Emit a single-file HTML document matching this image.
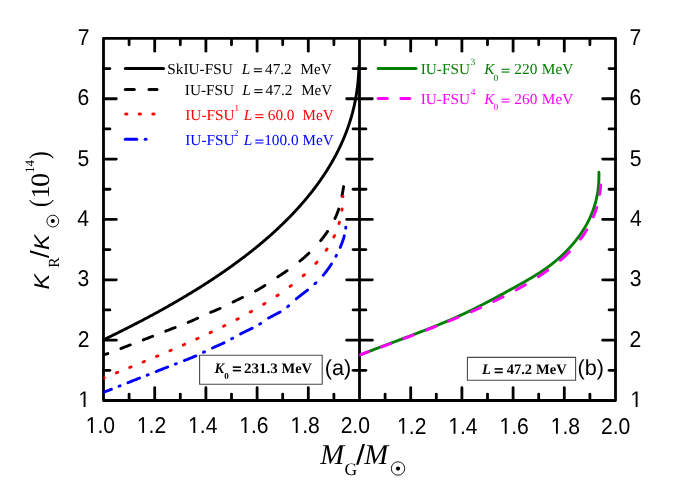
<!DOCTYPE html><html><head><meta charset="utf-8"><title>plot</title>
<style>html,body{margin:0;padding:0;background:#fff}svg{display:block;will-change:transform}text{font-family:"Liberation Sans",sans-serif;text-rendering:geometricPrecision}.s{font-family:"Liberation Serif",serif}.i{font-style:italic}.b{font-weight:bold}</style></head><body>
<svg width="692" height="483" viewBox="0 0 692 483">
<rect width="692" height="483" fill="#fff"/>
<g stroke="#000" stroke-width="2.8" fill="none" stroke-linecap="round" stroke-linejoin="round">
<rect x="103.5" y="38.4" width="512.0" height="362.1"/>
<line x1="359.5" y1="38.4" x2="359.5" y2="400.5"/>
<line x1="129.10" y1="38.4" x2="129.10" y2="44.8"/>
<line x1="129.10" y1="400.5" x2="129.10" y2="394.1"/>
<line x1="154.70" y1="38.4" x2="154.70" y2="51.2"/>
<line x1="154.70" y1="400.5" x2="154.70" y2="387.7"/>
<line x1="180.30" y1="38.4" x2="180.30" y2="44.8"/>
<line x1="180.30" y1="400.5" x2="180.30" y2="394.1"/>
<line x1="205.90" y1="38.4" x2="205.90" y2="51.2"/>
<line x1="205.90" y1="400.5" x2="205.90" y2="387.7"/>
<line x1="231.50" y1="38.4" x2="231.50" y2="44.8"/>
<line x1="231.50" y1="400.5" x2="231.50" y2="394.1"/>
<line x1="257.10" y1="38.4" x2="257.10" y2="51.2"/>
<line x1="257.10" y1="400.5" x2="257.10" y2="387.7"/>
<line x1="282.70" y1="38.4" x2="282.70" y2="44.8"/>
<line x1="282.70" y1="400.5" x2="282.70" y2="394.1"/>
<line x1="308.30" y1="38.4" x2="308.30" y2="51.2"/>
<line x1="308.30" y1="400.5" x2="308.30" y2="387.7"/>
<line x1="333.90" y1="38.4" x2="333.90" y2="44.8"/>
<line x1="333.90" y1="400.5" x2="333.90" y2="394.1"/>
<line x1="385.10" y1="38.4" x2="385.10" y2="44.8"/>
<line x1="385.10" y1="400.5" x2="385.10" y2="394.1"/>
<line x1="410.70" y1="38.4" x2="410.70" y2="51.2"/>
<line x1="410.70" y1="400.5" x2="410.70" y2="387.7"/>
<line x1="436.30" y1="38.4" x2="436.30" y2="44.8"/>
<line x1="436.30" y1="400.5" x2="436.30" y2="394.1"/>
<line x1="461.90" y1="38.4" x2="461.90" y2="51.2"/>
<line x1="461.90" y1="400.5" x2="461.90" y2="387.7"/>
<line x1="487.50" y1="38.4" x2="487.50" y2="44.8"/>
<line x1="487.50" y1="400.5" x2="487.50" y2="394.1"/>
<line x1="513.10" y1="38.4" x2="513.10" y2="51.2"/>
<line x1="513.10" y1="400.5" x2="513.10" y2="387.7"/>
<line x1="538.70" y1="38.4" x2="538.70" y2="44.8"/>
<line x1="538.70" y1="400.5" x2="538.70" y2="394.1"/>
<line x1="564.30" y1="38.4" x2="564.30" y2="51.2"/>
<line x1="564.30" y1="400.5" x2="564.30" y2="387.7"/>
<line x1="589.90" y1="38.4" x2="589.90" y2="44.8"/>
<line x1="589.90" y1="400.5" x2="589.90" y2="394.1"/>
<line x1="103.5" y1="370.32" x2="109.9" y2="370.32"/>
<line x1="353.1" y1="370.32" x2="365.9" y2="370.32"/>
<line x1="615.5" y1="370.32" x2="609.1" y2="370.32"/>
<line x1="103.5" y1="340.15" x2="116.3" y2="340.15"/>
<line x1="346.7" y1="340.15" x2="372.3" y2="340.15"/>
<line x1="615.5" y1="340.15" x2="602.7" y2="340.15"/>
<line x1="103.5" y1="309.97" x2="109.9" y2="309.97"/>
<line x1="353.1" y1="309.97" x2="365.9" y2="309.97"/>
<line x1="615.5" y1="309.97" x2="609.1" y2="309.97"/>
<line x1="103.5" y1="279.80" x2="116.3" y2="279.80"/>
<line x1="346.7" y1="279.80" x2="372.3" y2="279.80"/>
<line x1="615.5" y1="279.80" x2="602.7" y2="279.80"/>
<line x1="103.5" y1="249.62" x2="109.9" y2="249.62"/>
<line x1="353.1" y1="249.62" x2="365.9" y2="249.62"/>
<line x1="615.5" y1="249.62" x2="609.1" y2="249.62"/>
<line x1="103.5" y1="219.45" x2="116.3" y2="219.45"/>
<line x1="346.7" y1="219.45" x2="372.3" y2="219.45"/>
<line x1="615.5" y1="219.45" x2="602.7" y2="219.45"/>
<line x1="103.5" y1="189.27" x2="109.9" y2="189.27"/>
<line x1="353.1" y1="189.27" x2="365.9" y2="189.27"/>
<line x1="615.5" y1="189.27" x2="609.1" y2="189.27"/>
<line x1="103.5" y1="159.10" x2="116.3" y2="159.10"/>
<line x1="346.7" y1="159.10" x2="372.3" y2="159.10"/>
<line x1="615.5" y1="159.10" x2="602.7" y2="159.10"/>
<line x1="103.5" y1="128.93" x2="109.9" y2="128.93"/>
<line x1="353.1" y1="128.93" x2="365.9" y2="128.93"/>
<line x1="615.5" y1="128.93" x2="609.1" y2="128.93"/>
<line x1="103.5" y1="98.75" x2="116.3" y2="98.75"/>
<line x1="346.7" y1="98.75" x2="372.3" y2="98.75"/>
<line x1="615.5" y1="98.75" x2="602.7" y2="98.75"/>
<line x1="103.5" y1="68.57" x2="109.9" y2="68.57"/>
<line x1="353.1" y1="68.57" x2="365.9" y2="68.57"/>
<line x1="615.5" y1="68.57" x2="609.1" y2="68.57"/>
</g>
<clipPath id="cl"><rect x="103.5" y="38.4" width="256.0" height="362.1"/></clipPath>
<clipPath id="cr"><rect x="359.5" y="38.4" width="256.0" height="362.1"/></clipPath>
<g fill="none" stroke-width="2.9" stroke-linecap="round" stroke-linejoin="round" clip-path="url(#cl)">
<path d="M103.33,339.90 L105.23,338.98 L107.13,338.07 L109.02,337.15 L110.90,336.24 L112.78,335.32 L114.65,334.40 L116.50,333.49 L118.35,332.57 L120.20,331.66 L122.03,330.74 L123.86,329.82 L125.68,328.91 L127.49,327.99 L129.29,327.08 L131.09,326.16 L132.88,325.24 L134.66,324.33 L136.43,323.41 L138.19,322.49 L139.95,321.58 L141.70,320.66 L143.44,319.75 L145.17,318.83 L146.89,317.91 L148.61,317.00 L150.32,316.08 L152.02,315.17 L153.71,314.25 L155.40,313.33 L157.08,312.42 L158.75,311.50 L160.41,310.59 L162.06,309.67 L163.71,308.75 L165.35,307.84 L166.98,306.92 L168.60,306.01 L170.21,305.09 L171.82,304.17 L173.42,303.26 L175.01,302.34 L176.59,301.43 L178.17,300.51 L179.74,299.59 L181.29,298.68 L182.85,297.76 L184.39,296.85 L185.93,295.93 L187.45,295.01 L188.97,294.10 L190.49,293.18 L191.99,292.27 L193.49,291.35 L194.98,290.43 L196.46,289.52 L197.93,288.60 L199.40,287.68 L200.85,286.77 L202.30,285.85 L203.75,284.94 L205.18,284.02 L206.61,283.10 L208.02,282.19 L209.43,281.27 L210.84,280.36 L212.23,279.44 L213.62,278.52 L215.00,277.61 L216.37,276.69 L217.73,275.78 L219.09,274.86 L220.44,273.94 L221.78,273.03 L223.11,272.11 L224.43,271.20 L225.75,270.28 L227.06,269.36 L228.36,268.45 L229.66,267.53 L230.94,266.62 L232.22,265.70 L233.49,264.78 L234.76,263.87 L236.01,262.95 L237.26,262.04 L238.50,261.12 L239.73,260.20 L240.96,259.29 L242.18,258.37 L243.39,257.46 L244.59,256.54 L245.79,255.62 L246.97,254.71 L248.16,253.79 L249.33,252.87 L250.50,251.96 L251.65,251.04 L252.81,250.13 L253.95,249.21 L255.09,248.29 L256.22,247.38 L257.34,246.46 L258.45,245.55 L259.56,244.63 L260.66,243.71 L261.75,242.80 L262.84,241.88 L263.92,240.97 L264.99,240.05 L266.06,239.13 L267.11,238.22 L268.16,237.30 L269.21,236.39 L270.24,235.47 L271.27,234.55 L272.30,233.64 L273.31,232.72 L274.32,231.81 L275.32,230.89 L276.31,229.97 L277.30,229.06 L278.28,228.14 L279.26,227.23 L280.22,226.31 L281.18,225.39 L282.13,224.48 L283.08,223.56 L284.02,222.65 L284.95,221.73 L285.88,220.81 L286.80,219.90 L287.71,218.98 L288.61,218.06 L289.51,217.15 L290.41,216.23 L291.29,215.32 L292.17,214.40 L293.04,213.48 L293.91,212.57 L294.77,211.65 L295.62,210.74 L296.46,209.82 L297.30,208.90 L298.14,207.99 L298.96,207.07 L299.78,206.16 L300.60,205.24 L301.40,204.32 L302.20,203.41 L303.00,202.49 L303.78,201.58 L304.57,200.66 L305.34,199.74 L306.11,198.83 L306.87,197.91 L307.63,197.00 L308.38,196.08 L309.12,195.16 L309.86,194.25 L310.59,193.33 L311.31,192.42 L312.03,191.50 L312.75,190.58 L313.45,189.67 L314.15,188.75 L314.85,187.84 L315.54,186.92 L316.22,186.00 L316.89,185.09 L317.56,184.17 L318.23,183.25 L318.89,182.34 L319.54,181.42 L320.18,180.51 L320.82,179.59 L321.46,178.67 L322.09,177.76 L322.71,176.84 L323.32,175.93 L323.94,175.01 L324.54,174.09 L325.14,173.18 L325.73,172.26 L326.32,171.35 L326.90,170.43 L327.48,169.51 L328.05,168.60 L328.61,167.68 L329.17,166.77 L329.73,165.85 L330.27,164.93 L330.82,164.02 L331.35,163.10 L331.88,162.19 L332.41,161.27 L332.93,160.35 L333.44,159.44 L333.95,158.52 L334.45,157.61 L334.95,156.69 L335.44,155.77 L335.93,154.86 L336.41,153.94 L336.88,153.03 L337.35,152.11 L337.82,151.19 L338.27,150.28 L338.73,149.36 L339.17,148.44 L339.62,147.53 L340.05,146.61 L340.49,145.70 L340.91,144.78 L341.33,143.86 L341.75,142.95 L342.16,142.03 L342.56,141.12 L342.96,140.20 L343.35,139.28 L343.74,138.37 L344.12,137.45 L344.50,136.54 L344.87,135.62 L345.24,134.70 L345.60,133.79 L345.96,132.87 L346.31,131.96 L346.66,131.04 L347.00,130.12 L347.33,129.21 L347.66,128.29 L347.99,127.38 L348.31,126.46 L348.62,125.54 L348.93,124.63 L349.24,123.71 L349.54,122.80 L349.83,121.88 L350.12,120.96 L350.41,120.05 L350.68,119.13 L350.96,118.22 L351.23,117.30 L351.49,116.38 L351.75,115.47 L352.00,114.55 L352.25,113.63 L352.50,112.72 L352.73,111.80 L352.97,110.89 L353.20,109.97 L353.42,109.05 L353.64,108.14 L353.86,107.22 L354.07,106.31 L354.27,105.39 L354.47,104.47 L354.67,103.56 L354.86,102.64 L355.04,101.73 L355.23,100.81 L355.40,99.89 L355.58,98.98 L355.74,98.06 L355.91,97.15 L356.07,96.23 L356.22,95.31 L356.37,94.40 L356.52,93.48 L356.66,92.57 L356.80,91.65 L356.93,90.73 L357.06,89.82 L357.18,88.90 L357.30,87.99 L357.42,87.07 L357.53,86.15 L357.64,85.24 L357.74,84.32 L357.84,83.41 L357.94,82.49 L358.03,81.57 L358.11,80.66 L358.20,79.74 L358.28,78.82 L358.35,77.91 L358.42,76.99 L358.49,76.08 L358.55,75.16 L358.61,74.24 L358.67,73.33 L358.72,72.41 L358.77,71.50 L358.82,70.58 L358.86,69.66 L358.90,68.75 L358.93,67.83 L358.96,66.92 L358.99,66.00" stroke="#000"/>
<path d="M103.72,354.80 L105.28,354.35 L106.76,353.90 L107.82,353.56 M120.86,348.55 L121.98,348.11 L123.12,347.66 L124.27,347.21 L125.44,346.76 L126.61,346.31 L127.78,345.86 L128.96,345.41 L130.15,344.96 L130.26,344.91 M143.31,339.88 L144.45,339.44 L145.60,338.99 L146.76,338.54 L147.91,338.09 L149.06,337.64 L150.22,337.19 L151.37,336.74 L152.52,336.29 L152.71,336.22 M165.76,331.13 L166.81,330.72 L167.97,330.27 L169.13,329.82 L170.30,329.37 L171.47,328.92 L172.64,328.47 L173.81,328.02 L174.98,327.57 L175.16,327.51 M188.21,322.35 L189.16,321.95 L190.22,321.50 L191.26,321.05 L192.29,320.60 L193.30,320.15 L194.31,319.70 L195.30,319.25 L196.29,318.80 L197.27,318.35 L197.61,318.19 M210.66,312.34 L211.64,311.94 L212.73,311.49 L213.84,311.04 L214.94,310.59 L216.04,310.14 L217.14,309.69 L218.22,309.24 L219.28,308.79 L220.06,308.45 M233.10,302.01 L233.93,301.59 L234.83,301.14 L235.75,300.69 L236.66,300.24 L237.59,299.79 L238.52,299.34 L239.46,298.89 L240.39,298.44 L241.34,297.99 L242.28,297.54 L242.49,297.44 M255.53,290.99 L256.33,290.56 L257.15,290.11 L257.96,289.66 L258.75,289.21 L259.53,288.76 L260.30,288.31 L261.06,287.86 L261.81,287.41 L262.55,286.96 L263.28,286.51 L264.00,286.06 L264.72,285.61 L264.89,285.50 M277.80,276.89 L278.39,276.50 L279.07,276.05 L279.75,275.60 L280.43,275.15 L281.11,274.70 L281.79,274.25 L282.47,273.80 L283.14,273.35 L283.82,272.90 L284.49,272.45 L285.16,272.00 L285.83,271.55 L286.49,271.10 L287.10,270.68 M299.89,261.13 L300.43,260.69 L300.97,260.24 L301.51,259.79 L302.05,259.34 L302.58,258.89 L303.11,258.44 L303.63,257.99 L304.15,257.54 L304.66,257.09 L305.17,256.64 L305.67,256.19 L306.17,255.74 L306.67,255.29 L307.16,254.84 L307.65,254.39 L308.13,253.94 L308.61,253.49 L308.97,253.14 M320.65,240.62 L320.99,240.21 L321.36,239.76 L321.72,239.31 L322.08,238.86 L322.43,238.41 L322.79,237.96 L323.14,237.51 L323.48,237.06 L323.82,236.61 L324.16,236.16 L324.50,235.71 L324.83,235.26 L325.16,234.81 L325.49,234.36 L325.81,233.91 L326.13,233.46 L326.45,233.01 L326.76,232.56 L327.07,232.11 L327.38,231.66 L327.55,231.41 M334.99,218.42 L335.18,217.99 L335.39,217.54 L335.60,217.09 L335.80,216.64 L335.99,216.19 L336.19,215.74 L336.38,215.29 L336.57,214.84 L336.76,214.39 L336.94,213.94 L337.12,213.49 L337.30,213.04 L337.47,212.59 L337.64,212.14 L337.81,211.69 L337.97,211.24 L338.13,210.79 L338.29,210.34 L338.44,209.89 L338.60,209.44 L338.74,209.02 M341.97,195.97 L342.05,195.55 L342.13,195.10 L342.21,194.65 L342.30,194.20 L342.38,193.75 L342.46,193.30 L342.54,192.85 L342.61,192.40 L342.69,191.95 L342.77,191.50 L342.85,191.05 L342.92,190.60 L343.00,190.15 L343.08,189.70 L343.15,189.25 L343.23,188.80 L343.30,188.35 L343.38,187.90 L343.45,187.45 L343.53,187.00 L343.60,186.57" stroke="#000"/>
<path d="M103.95,377.80 L104.25,377.68 M116.35,372.86 L117.47,372.41 L117.65,372.34 M129.74,367.47 L130.86,367.02 L131.04,366.94 M143.14,362.00 L144.20,361.56 L144.44,361.46 M156.54,356.43 L157.60,355.99 L157.84,355.89 M169.94,350.75 L171.00,350.29 L171.24,350.19 M183.34,344.92 L184.34,344.48 L184.64,344.34 M196.74,338.91 L197.68,338.48 L198.04,338.31 M210.13,332.68 L211.06,332.24 L211.43,332.06 M223.52,326.18 L224.38,325.76 L224.82,325.54 M236.91,319.35 L237.75,318.91 L238.21,318.67 M250.28,312.10 L251.10,311.64 L251.58,311.37 M263.63,304.30 L264.41,303.82 L264.92,303.51 M276.92,295.81 L277.62,295.34 L278.20,294.95 M290.11,286.43 L290.74,285.95 L291.37,285.47 L291.38,285.46 M303.14,275.80 L303.65,275.35 L304.19,274.86 L304.39,274.68 M315.80,263.37 L316.20,262.93 L316.64,262.44 L316.92,262.12 M326.16,250.31 L326.48,249.84 L326.80,249.36 L327.02,249.02 M333.87,236.97 L334.08,236.51 L334.31,236.03 L334.48,235.67 M339.03,223.57 L339.16,223.12 L339.30,222.64 L339.40,222.27 M341.93,210.17 L341.99,209.73 L342.05,209.25 L342.10,208.87 M342.90,196.77 L342.90,196.34 L342.90,196.10" stroke="#f00"/>
<path d="M103.50,392.30 L104.67,391.86 L105.83,391.42 L106.99,390.98 L108.14,390.54 L109.28,390.10 L110.42,389.66 L111.40,389.28 M119.05,386.26 L120.05,385.86 M128.04,382.66 L129.13,382.23 L130.23,381.79 L131.33,381.34 L132.44,380.90 L133.55,380.46 L134.66,380.02 L135.77,379.58 L136.89,379.14 L138.01,378.70 L139.14,378.26 L139.54,378.10 M147.19,375.14 L148.19,374.75 M156.19,371.54 L157.29,371.11 L158.39,370.66 L159.50,370.22 L160.61,369.78 L161.72,369.34 L162.84,368.90 L163.96,368.46 L165.08,368.02 L166.21,367.58 L167.34,367.14 L167.69,367.00 M175.34,364.05 L176.34,363.67 M184.34,360.59 L185.33,360.20 L186.46,359.76 L187.57,359.32 L188.68,358.88 L189.78,358.44 L190.86,358.00 L191.93,357.56 L192.99,357.12 L194.03,356.68 L195.05,356.24 L195.84,355.90 M203.49,352.31 L204.34,351.89 L204.49,351.82 M212.48,347.98 L213.45,347.54 L214.44,347.10 L215.43,346.66 L216.43,346.22 L217.44,345.78 L218.44,345.34 L219.44,344.90 L220.43,344.46 L221.40,344.02 L222.37,343.58 L223.31,343.14 L223.98,342.82 M231.62,338.80 L232.31,338.40 L232.62,338.24 M240.60,333.89 L241.37,333.50 L242.24,333.06 L243.13,332.62 L244.02,332.18 L244.93,331.74 L245.83,331.30 L246.74,330.86 L247.65,330.42 L248.56,329.98 L249.46,329.54 L250.37,329.10 L251.26,328.66 L252.09,328.25 M259.72,324.10 L260.34,323.71 L260.71,323.46 M268.62,318.11 L269.31,317.70 L270.10,317.26 L270.90,316.82 L271.72,316.38 L272.55,315.94 L273.39,315.50 L274.23,315.06 L275.08,314.62 L275.93,314.18 L276.77,313.74 L277.60,313.30 L278.42,312.86 L279.22,312.42 L280.01,311.98 L280.10,311.93 M287.63,306.70 L288.09,306.31 L288.60,305.87 L288.60,305.87 M296.32,298.87 L296.83,298.44 L297.37,298.00 L297.91,297.56 L298.45,297.12 L299.01,296.68 L299.57,296.23 L300.13,295.79 L300.70,295.35 L301.27,294.91 L301.84,294.47 L302.42,294.03 L303.00,293.59 L303.58,293.15 L304.15,292.71 L304.73,292.27 L305.31,291.83 L305.88,291.39 L306.45,290.95 L307.02,290.51 L307.54,290.10 M314.96,283.79 L315.43,283.35 L315.89,282.91 L315.92,282.89 M323.19,275.23 L323.54,274.82 L323.91,274.38 L324.27,273.94 L324.63,273.50 L324.99,273.06 L325.34,272.62 L325.69,272.18 L326.03,271.74 L326.37,271.30 L326.71,270.86 L327.04,270.42 L327.37,269.98 L327.69,269.53 L328.01,269.09 L328.33,268.65 L328.64,268.21 L328.95,267.77 L329.25,267.33 L329.55,266.89 L329.85,266.45 L330.15,266.01 L330.44,265.57 L330.73,265.13 L331.01,264.69 L331.29,264.25 L331.49,263.95 M335.90,256.33 L336.10,255.94 L336.34,255.50 L336.42,255.33 M340.25,247.33 L340.43,246.91 L340.62,246.47 L340.80,246.03 L340.98,245.59 L341.16,245.15 L341.34,244.71 L341.51,244.27 L341.68,243.83 L341.85,243.39 L342.01,242.94 L342.18,242.50 L342.34,242.06 L342.49,241.62 L342.65,241.18 L342.80,240.74 L342.94,240.30 L343.09,239.86 L343.23,239.42 L343.37,238.98 L343.50,238.54 L343.64,238.10 L343.76,237.66 L343.89,237.22 L344.01,236.78 L344.13,236.34 L344.25,235.90 L344.27,235.83 M345.72,228.18 L345.77,227.75 L345.82,227.31 L345.83,227.20" stroke="#00f"/>
</g>
<g fill="none" stroke-width="2.9" stroke-linecap="round" stroke-linejoin="round" clip-path="url(#cr)">
<path d="M359.41,355.20 L360.96,354.59 L362.52,353.98 L364.08,353.36 L365.65,352.75 L367.23,352.14 L368.81,351.53 L370.40,350.92 L371.99,350.31 L373.59,349.69 L375.19,349.08 L376.79,348.47 L378.40,347.86 L380.01,347.25 L381.63,346.64 L383.25,346.02 L384.87,345.41 L386.49,344.80 L388.11,344.19 L389.74,343.58 L391.36,342.97 L392.99,342.35 L394.62,341.74 L396.24,341.13 L397.87,340.52 L399.50,339.91 L401.12,339.30 L402.75,338.68 L404.37,338.07 L405.99,337.46 L407.61,336.85 L409.22,336.24 L410.83,335.63 L412.44,335.01 L414.05,334.40 L415.65,333.79 L417.25,333.18 L418.84,332.57 L420.43,331.96 L422.01,331.34 L423.58,330.73 L425.16,330.12 L426.72,329.51 L428.28,328.90 L429.83,328.28 L431.37,327.67 L432.91,327.06 L434.44,326.45 L435.96,325.84 L437.47,325.23 L438.97,324.61 L440.47,324.00 L441.95,323.39 L443.43,322.78 L444.89,322.17 L446.34,321.56 L447.79,320.94 L449.22,320.33 L450.64,319.72 L452.05,319.11 L453.44,318.50 L454.83,317.89 L456.20,317.27 L457.57,316.66 L458.92,316.05 L460.26,315.44 L461.59,314.83 L462.91,314.22 L464.22,313.60 L465.52,312.99 L466.82,312.38 L468.10,311.77 L469.37,311.16 L470.64,310.55 L471.90,309.93 L473.15,309.32 L474.39,308.71 L475.62,308.10 L476.85,307.49 L478.06,306.88 L479.28,306.26 L480.48,305.65 L481.68,305.04 L482.87,304.43 L484.06,303.82 L485.24,303.21 L486.42,302.59 L487.59,301.98 L488.75,301.37 L489.91,300.76 L491.07,300.15 L492.22,299.53 L493.37,298.92 L494.51,298.31 L495.65,297.70 L496.79,297.09 L497.92,296.48 L499.05,295.86 L500.18,295.25 L501.31,294.64 L502.43,294.03 L503.55,293.42 L504.67,292.81 L505.79,292.19 L506.91,291.58 L508.03,290.97 L509.14,290.36 L510.26,289.75 L511.37,289.14 L512.49,288.52 L513.60,287.91 L514.71,287.30 L515.82,286.69 L516.92,286.08 L518.03,285.47 L519.13,284.85 L520.22,284.24 L521.31,283.63 L522.40,283.02 L523.48,282.41 L524.55,281.80 L525.62,281.18 L526.69,280.57 L527.75,279.96 L528.80,279.35 L529.84,278.74 L530.87,278.13 L531.90,277.51 L532.92,276.90 L533.93,276.29 L534.93,275.68 L535.93,275.07 L536.91,274.45 L537.88,273.84 L538.84,273.23 L539.79,272.62 L540.73,272.01 L541.65,271.40 L542.57,270.78 L543.47,270.17 L544.36,269.56 L545.24,268.95 L546.11,268.34 L546.97,267.73 L547.81,267.11 L548.65,266.50 L549.47,265.89 L550.28,265.28 L551.09,264.67 L551.88,264.06 L552.66,263.44 L553.43,262.83 L554.19,262.22 L554.94,261.61 L555.68,261.00 L556.42,260.39 L557.14,259.77 L557.85,259.16 L558.56,258.55 L559.25,257.94 L559.94,257.33 L560.61,256.72 L561.28,256.10 L561.94,255.49 L562.59,254.88 L563.24,254.27 L563.87,253.66 L564.50,253.05 L565.12,252.43 L565.73,251.82 L566.33,251.21 L566.93,250.60 L567.52,249.99 L568.10,249.37 L568.67,248.76 L569.24,248.15 L569.80,247.54 L570.36,246.93 L570.91,246.32 L571.45,245.70 L571.98,245.09 L572.51,244.48 L573.04,243.87 L573.55,243.26 L574.07,242.65 L574.57,242.03 L575.07,241.42 L575.56,240.81 L576.05,240.20 L576.53,239.59 L577.00,238.98 L577.47,238.36 L577.94,237.75 L578.39,237.14 L578.84,236.53 L579.29,235.92 L579.73,235.31 L580.16,234.69 L580.59,234.08 L581.01,233.47 L581.43,232.86 L581.84,232.25 L582.24,231.64 L582.64,231.02 L583.04,230.41 L583.43,229.80 L583.81,229.19 L584.18,228.58 L584.56,227.97 L584.92,227.35 L585.28,226.74 L585.64,226.13 L585.99,225.52 L586.33,224.91 L586.67,224.29 L587.01,223.68 L587.33,223.07 L587.66,222.46 L587.98,221.85 L588.29,221.24 L588.60,220.62 L588.90,220.01 L589.20,219.40 L589.49,218.79 L589.78,218.18 L590.06,217.57 L590.34,216.95 L590.61,216.34 L590.88,215.73 L591.14,215.12 L591.40,214.51 L591.65,213.90 L591.90,213.28 L592.14,212.67 L592.38,212.06 L592.61,211.45 L592.84,210.84 L593.06,210.23 L593.28,209.61 L593.50,209.00 L593.71,208.39 L593.91,207.78 L594.11,207.17 L594.31,206.56 L594.50,205.94 L594.69,205.33 L594.87,204.72 L595.05,204.11 L595.22,203.50 L595.39,202.89 L595.56,202.27 L595.72,201.66 L595.88,201.05 L596.03,200.44 L596.18,199.83 L596.32,199.22 L596.46,198.60 L596.60,197.99 L596.73,197.38 L596.85,196.77 L596.98,196.16 L597.10,195.54 L597.21,194.93 L597.32,194.32 L597.43,193.71 L597.53,193.10 L597.63,192.49 L597.73,191.87 L597.82,191.26 L597.91,190.65 L597.99,190.04 L598.07,189.43 L598.15,188.82 L598.22,188.20 L598.29,187.59 L598.36,186.98 L598.42,186.37 L598.47,185.76 L598.53,185.15 L598.58,184.53 L598.63,183.92 L598.67,183.31 L598.71,182.70 L598.75,182.09 L598.78,181.48 L598.81,180.86 L598.84,180.25 L598.86,179.64 L598.88,179.03 L598.90,178.42 L598.91,177.81 L598.92,177.19 L598.93,176.58 L598.93,175.97 L598.93,175.36 L598.93,174.75 L598.93,174.14 L598.92,173.52 L598.91,172.91 L598.89,172.30" stroke="#008000"/>
<path d="M359.00,355.20 L360.25,354.74 L361.50,354.29 L362.75,353.83 L364.00,353.37 L365.25,352.92 L366.50,352.46 L367.74,352.00 L368.40,351.76 M381.45,346.97 L382.67,346.52 L383.91,346.07 L385.15,345.61 L386.38,345.15 L387.62,344.70 L388.85,344.24 L390.09,343.78 L390.85,343.50 M403.90,338.63 L405.08,338.19 L406.30,337.73 L407.51,337.28 L408.72,336.82 L409.93,336.36 L411.13,335.91 L412.34,335.45 L413.30,335.08 M426.35,330.08 L427.51,329.63 L428.68,329.17 L429.85,328.71 L431.02,328.26 L432.19,327.80 L433.35,327.34 L434.51,326.89 L435.67,326.43 L435.75,326.40 M448.80,321.17 L449.90,320.72 L451.01,320.26 L452.13,319.81 L453.24,319.35 L454.34,318.89 L455.45,318.44 L456.55,317.98 L457.64,317.52 L458.20,317.29 M471.25,311.72 L472.21,311.30 L473.25,310.84 L474.28,310.39 L475.31,309.93 L476.34,309.47 L477.36,309.02 L478.38,308.56 L479.40,308.10 L480.41,307.65 L480.64,307.54 M493.69,301.45 L494.57,301.03 L495.51,300.57 L496.45,300.11 L497.38,299.66 L498.31,299.20 L499.24,298.74 L500.16,298.29 L501.07,297.83 L501.98,297.37 L502.89,296.92 L503.08,296.82 M516.11,289.98 L516.89,289.55 L517.72,289.09 L518.54,288.64 L519.36,288.18 L520.18,287.72 L520.99,287.27 L521.80,286.81 L522.60,286.35 L523.39,285.90 L524.19,285.44 L524.97,284.98 L525.48,284.69 M538.45,276.68 L539.11,276.25 L539.80,275.79 L540.49,275.34 L541.17,274.88 L541.85,274.42 L542.52,273.97 L543.19,273.51 L543.85,273.05 L544.50,272.60 L545.16,272.14 L545.80,271.68 L546.44,271.23 L547.08,270.77 L547.71,270.31 L547.73,270.30 M560.46,260.26 L560.98,259.81 L561.51,259.35 L562.02,258.90 L562.54,258.44 L563.05,257.98 L563.55,257.53 L564.05,257.07 L564.55,256.61 L565.04,256.16 L565.53,255.70 L566.02,255.24 L566.50,254.79 L566.97,254.33 L567.44,253.87 L567.91,253.42 L568.37,252.96 L568.83,252.50 L569.29,252.05 L569.51,251.82 M580.49,239.19 L580.82,238.75 L581.16,238.29 L581.49,237.83 L581.83,237.38 L582.16,236.92 L582.48,236.46 L582.80,236.01 L583.12,235.55 L583.44,235.09 L583.75,234.64 L584.05,234.18 L584.36,233.72 L584.66,233.26 L584.96,232.81 L585.25,232.35 L585.54,231.89 L585.83,231.44 L586.11,230.98 L586.40,230.52 L586.67,230.07 L586.78,229.90 M593.36,216.87 L593.54,216.42 L593.72,215.97 L593.91,215.51 L594.08,215.05 L594.26,214.60 L594.43,214.14 L594.61,213.68 L594.77,213.23 L594.94,212.77 L595.10,212.31 L595.26,211.86 L595.42,211.40 L595.58,210.94 L595.73,210.49 L595.88,210.03 L596.03,209.57 L596.18,209.12 L596.32,208.66 L596.46,208.20 L596.60,207.75 L596.68,207.47 M599.63,194.42 L599.69,193.99 L599.77,193.53 L599.83,193.08 L599.90,192.62 L599.97,192.16 L600.03,191.71 L600.09,191.25 L600.15,190.79 L600.21,190.34 L600.26,189.88 L600.32,189.42 L600.37,188.97 L600.42,188.51 L600.47,188.05 L600.51,187.60 L600.56,187.14 L600.60,186.68 L600.65,186.23 L600.69,185.77 L600.73,185.31 L600.75,185.02" stroke="#f0f"/>
</g>
<path transform="translate(85.67,432.90) scale(0.010303,-0.011127)" d="M515 0V1237L197 1010V1180L530 1409H696V0Z" fill="#000"/>
<text transform="translate(97.41,432.90) scale(1,1.08)" font-size="21.1" fill="#000">.0</text>
<path transform="translate(136.87,432.90) scale(0.010303,-0.011127)" d="M515 0V1237L197 1010V1180L530 1409H696V0Z" fill="#000"/>
<text transform="translate(148.61,432.90) scale(1,1.08)" font-size="21.1" fill="#000">.2</text>
<path transform="translate(188.07,432.90) scale(0.010303,-0.011127)" d="M515 0V1237L197 1010V1180L530 1409H696V0Z" fill="#000"/>
<text transform="translate(199.81,432.90) scale(1,1.08)" font-size="21.1" fill="#000">.4</text>
<path transform="translate(239.27,432.90) scale(0.010303,-0.011127)" d="M515 0V1237L197 1010V1180L530 1409H696V0Z" fill="#000"/>
<text transform="translate(251.01,432.90) scale(1,1.08)" font-size="21.1" fill="#000">.6</text>
<path transform="translate(290.47,432.90) scale(0.010303,-0.011127)" d="M515 0V1237L197 1010V1180L530 1409H696V0Z" fill="#000"/>
<text transform="translate(302.21,432.90) scale(1,1.08)" font-size="21.1" fill="#000">.8</text>
<text transform="translate(340.64,432.90) scale(1,1.08)" font-size="21.1" fill="#000">2.0</text>
<path transform="translate(397.07,433.70) scale(0.010303,-0.011127)" d="M515 0V1237L197 1010V1180L530 1409H696V0Z" fill="#000"/>
<text transform="translate(408.81,433.70) scale(1,1.08)" font-size="21.1" fill="#000">.2</text>
<path transform="translate(448.27,433.70) scale(0.010303,-0.011127)" d="M515 0V1237L197 1010V1180L530 1409H696V0Z" fill="#000"/>
<text transform="translate(460.01,433.70) scale(1,1.08)" font-size="21.1" fill="#000">.4</text>
<path transform="translate(499.47,433.70) scale(0.010303,-0.011127)" d="M515 0V1237L197 1010V1180L530 1409H696V0Z" fill="#000"/>
<text transform="translate(511.21,433.70) scale(1,1.08)" font-size="21.1" fill="#000">.6</text>
<path transform="translate(550.67,433.70) scale(0.010303,-0.011127)" d="M515 0V1237L197 1010V1180L530 1409H696V0Z" fill="#000"/>
<text transform="translate(562.41,433.70) scale(1,1.08)" font-size="21.1" fill="#000">.8</text>
<text transform="translate(600.94,433.70) scale(1,1.08)" font-size="21.1" fill="#000">2.0</text>
<path transform="translate(78.33,407.10) scale(0.010303,-0.011127)" d="M515 0V1237L197 1010V1180L530 1409H696V0Z" fill="#000"/>
<path transform="translate(630.37,407.10) scale(0.010303,-0.011127)" d="M515 0V1237L197 1010V1180L530 1409H696V0Z" fill="#000"/>
<text transform="translate(77.63,346.75) scale(1,1.08)" font-size="21.1" fill="#000">2</text>
<text transform="translate(629.44,346.75) scale(1,1.08)" font-size="21.1" fill="#000">2</text>
<text transform="translate(77.49,286.40) scale(1,1.08)" font-size="21.1" fill="#000">3</text>
<text transform="translate(629.70,286.40) scale(1,1.08)" font-size="21.1" fill="#000">3</text>
<text transform="translate(77.18,226.05) scale(1,1.08)" font-size="21.1" fill="#000">4</text>
<text transform="translate(630.02,226.05) scale(1,1.08)" font-size="21.1" fill="#000">4</text>
<text transform="translate(77.45,165.70) scale(1,1.08)" font-size="21.1" fill="#000">5</text>
<text transform="translate(629.66,165.70) scale(1,1.08)" font-size="21.1" fill="#000">5</text>
<text transform="translate(77.49,105.35) scale(1,1.08)" font-size="21.1" fill="#000">6</text>
<text transform="translate(629.43,105.35) scale(1,1.08)" font-size="21.1" fill="#000">6</text>
<text transform="translate(77.63,45.00) scale(1,1.08)" font-size="21.1" fill="#000">7</text>
<text transform="translate(629.42,45.00) scale(1,1.08)" font-size="21.1" fill="#000">7</text>
<g fill="none" stroke-width="3" stroke-linecap="round">
<line x1="125.3" y1="68.4" x2="163.5" y2="68.4" stroke="#000"/>
<line x1="125.3" y1="89.4" x2="134.3" y2="89.4" stroke="#000"/>
<line x1="149" y1="89.4" x2="157" y2="89.4" stroke="#000"/>
<line x1="125.7" y1="114" x2="126.89999999999999" y2="114" stroke="#f00"/>
<line x1="139.20000000000002" y1="114" x2="140.4" y2="114" stroke="#f00"/>
<line x1="152.8" y1="114" x2="154.0" y2="114" stroke="#f00"/>
<line x1="125.3" y1="139.2" x2="136.7" y2="139.2" stroke="#00f"/>
<line x1="145.2" y1="139.2" x2="146.0" y2="139.2" stroke="#00f"/>
<line x1="378.2" y1="68.4" x2="416" y2="68.4" stroke="#008000"/>
<line x1="378.2" y1="98.4" x2="387.3" y2="98.4" stroke="#f0f"/>
<line x1="400.9" y1="98.4" x2="409.8" y2="98.4" stroke="#f0f"/>
</g>
<text class="s" transform="translate(167.28,73.80)" font-size="15.3" fill="#000">SkIU-FSU</text>
<text class="s i" transform="translate(241.68,73.80)" font-size="15.3" fill="#000">L</text>
<rect x="253.80" y="68.32" width="8.1" height="1.1" fill="#000"/><rect x="253.80" y="71.10" width="8.1" height="1.1" fill="#000"/>
<text class="s" transform="translate(265.00,73.80)" font-size="15.3" fill="#000">47.2</text>
<text class="s" transform="translate(300.57,73.80) scale(0.985,1.0)" font-size="15.3" fill="#000">MeV</text>
<text class="s" transform="translate(184.85,94.70)" font-size="15.3" fill="#000">IU-FSU</text>
<text class="s i" transform="translate(242.28,94.70)" font-size="15.3" fill="#000">L</text>
<rect x="254.40" y="89.22" width="8.1" height="1.1" fill="#000"/><rect x="254.40" y="92.00" width="8.1" height="1.1" fill="#000"/>
<text class="s" transform="translate(265.60,94.70)" font-size="15.3" fill="#000">47.2</text>
<text class="s" transform="translate(301.17,94.70) scale(0.985,1.0)" font-size="15.3" fill="#000">MeV</text>
<text class="s" transform="translate(185.25,119.70)" font-size="15.3" fill="#f00">IU-FSU</text>
<text class="s" transform="translate(234.51,110.80)" font-size="9.0" fill="#f00">1</text>
<text class="s i" transform="translate(243.78,119.70)" font-size="15.3" fill="#f00">L</text>
<rect x="255.30" y="114.22" width="8.1" height="1.1" fill="#f00"/><rect x="255.30" y="117.00" width="8.1" height="1.1" fill="#f00"/>
<text class="s" transform="translate(267.74,119.70)" font-size="15.3" fill="#f00">60.0</text>
<text class="s" transform="translate(302.57,119.70) scale(0.985,1.0)" font-size="15.3" fill="#f00">MeV</text>
<text class="s" transform="translate(185.25,145.10)" font-size="15.3" fill="#00f">IU-FSU</text>
<text class="s" transform="translate(234.10,135.70)" font-size="9.0" fill="#00f">2</text>
<text class="s i" transform="translate(243.78,145.10)" font-size="15.3" fill="#00f">L</text>
<rect x="255.30" y="139.62" width="8.1" height="1.1" fill="#00f"/><rect x="255.30" y="142.40" width="8.1" height="1.1" fill="#00f"/>
<text class="s" transform="translate(264.16,145.10)" font-size="15.3" fill="#00f">100.0</text>
<text class="s" transform="translate(302.57,145.10) scale(0.985,1.0)" font-size="15.3" fill="#00f">MeV</text>
<text class="s" transform="translate(420.65,73.90)" font-size="15.3" fill="#008000">IU-FSU</text>
<text class="s" transform="translate(470.55,64.90)" font-size="9.5" fill="#008000">3</text>
<text class="s i" transform="translate(484.18,74.20)" font-size="15.3" fill="#008000">K</text>
<text class="s" transform="translate(493.44,80.50)" font-size="9.5" fill="#008000">0</text>
<rect x="501.50" y="68.72" width="8.1" height="1.1" fill="#008000"/><rect x="501.50" y="71.50" width="8.1" height="1.1" fill="#008000"/>
<text class="s" transform="translate(514.33,74.20)" font-size="15.3" fill="#008000">220</text>
<text class="s" transform="translate(541.86,74.20)" font-size="15.3" fill="#008000">MeV</text>
<text class="s" transform="translate(420.65,103.80)" font-size="15.3" fill="#f0f">IU-FSU</text>
<text class="s" transform="translate(470.81,94.80)" font-size="9.5" fill="#f0f">4</text>
<text class="s i" transform="translate(484.18,104.10)" font-size="15.3" fill="#f0f">K</text>
<text class="s" transform="translate(493.44,110.40)" font-size="9.5" fill="#f0f">0</text>
<rect x="501.50" y="98.62" width="8.1" height="1.1" fill="#f0f"/><rect x="501.50" y="101.40" width="8.1" height="1.1" fill="#f0f"/>
<text class="s" transform="translate(514.33,104.10)" font-size="15.3" fill="#f0f">260</text>
<text class="s" transform="translate(541.86,104.10)" font-size="15.3" fill="#f0f">MeV</text>
<rect x="199.6" y="355.3" width="122.6" height="28.9" fill="#fff" stroke="#4a4a4a" stroke-width="1.1" stroke-linejoin="round"/>
<rect x="467.4" y="357.4" width="108.2" height="22.9" fill="#fff" stroke="#4a4a4a" stroke-width="1.1" stroke-linejoin="round"/>
<text class="s b i" transform="translate(214.51,372.50)" font-size="14.5" fill="#000">K</text>
<text class="s b" transform="translate(224.16,379.00)" font-size="9" fill="#000">0</text>
<rect x="232.80" y="366.34" width="8.2" height="1.6" fill="#000"/><rect x="232.80" y="369.80" width="8.2" height="1.6" fill="#000"/>
<text class="s b" transform="translate(244.07,372.50) scale(1.035,1.0)" font-size="14.5" fill="#000">231.3</text>
<text class="s b" transform="translate(281.45,372.50)" font-size="14.5" fill="#000">MeV</text>
<text class="s b i" transform="translate(482.11,374.30)" font-size="14.5" fill="#000">L</text>
<rect x="494.60" y="368.14" width="8.2" height="1.6" fill="#000"/><rect x="494.60" y="371.60" width="8.2" height="1.6" fill="#000"/>
<text class="s b" transform="translate(506.70,374.30)" font-size="14.5" fill="#000">47.2</text>
<text class="s b" transform="translate(536.05,374.30)" font-size="14.5" fill="#000">MeV</text>
<text class="" transform="translate(324.76,374.50)" font-size="21.6" fill="#000">(a)</text>
<text class="" transform="translate(577.56,374.50)" font-size="21.6" fill="#000">(b)</text>
<text class="s i" transform="translate(320.24,464.20)" font-size="28.7" fill="#000">M</text>
<text class="s" transform="translate(344.58,474.60)" font-size="17.5" fill="#000">G</text>
<polygon points="356.0,464.8 358.5,464.8 365.0,444 362.5,444" fill="#000"/>
<text class="s i" transform="translate(364.34,464.20)" font-size="28.7" fill="#000">M</text>
<circle cx="398" cy="468.5" r="6.7" fill="none" stroke="#000" stroke-width="0.9"/><circle cx="398" cy="468.6" r="2.1" fill="#000"/>
<text class="i" transform="translate(48.90,289.61) rotate(-90) scale(1.09,1.0)" font-size="21.3" fill="#000">K</text>
<text class="s" transform="translate(59.00,267.75) rotate(-90)" font-size="15.5" fill="#000">R</text>
<polygon points="49.0,258.0 49.0,255.9 30.0,250.3 30.0,252.4" fill="#000"/>
<text class="i" transform="translate(48.90,250.01) rotate(-90) scale(1.09,1.0)" font-size="21.3" fill="#000">K</text>
<circle cx="52.8" cy="221.1" r="5.9" fill="none" stroke="#000" stroke-width="0.9"/><circle cx="52.8" cy="221.1" r="2.0" fill="#000"/>
<text class="s" transform="translate(48.40,206.92) rotate(-90) scale(0.85,1.0)" font-size="27.2" fill="#000">(</text>
<text class="s" transform="translate(48.90,198.59) rotate(-90)" font-size="26" fill="#000">1</text>
<text class="s" transform="translate(48.90,186.88) rotate(-90) scale(1.07,1.0)" font-size="26.5" fill="#000">0</text>
<text class="s" transform="translate(34.30,173.04) rotate(-90)" font-size="13.0" fill="#000">14</text>
<text class="s" transform="translate(48.40,159.05) rotate(-90) scale(0.85,1.0)" font-size="27.2" fill="#000">)</text>
</svg></body></html>
